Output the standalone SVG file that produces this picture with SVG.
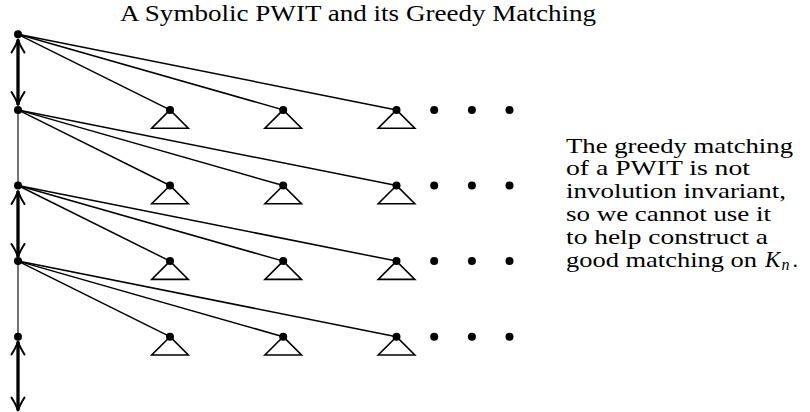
<svg xmlns="http://www.w3.org/2000/svg" width="810" height="412" viewBox="0 0 810 412">
  <defs>
    <style>
      .dot { fill: #000; }
      .tri { fill: none; stroke: #000; stroke-width: 1.6; stroke-linejoin: miter; }
      .edge { stroke: #000; stroke-width: 1.5; fill: none; }
      .thin { stroke: #000; stroke-width: 1.1; fill: none; }
      .thick { stroke: #000; stroke-width: 3.3; fill: none; marker-start: url(#ah); marker-end: url(#ah); }
      .txt { font-family: "Liberation Serif", "Times New Roman", serif; font-size: 22px; fill: #000; }
      .title { font-family: "Liberation Serif", "Times New Roman", serif; font-size: 23px; fill: #000; }
    </style>
    <marker id="ah" markerUnits="userSpaceOnUse" orient="auto-start-reverse" markerWidth="20" markerHeight="20" viewBox="-15 -10 20 20" refX="0" refY="0" overflow="visible">
      <path d="M-13,-6.5 Q-5,-1.5 0,0 Q-5,1.5 -13,6.5" fill="none" stroke="#000" stroke-width="2" stroke-linecap="round" stroke-linejoin="round"/>
    </marker>
    <path id="sub" class="tri" d="M0,0 L-18.3,18.3 L18.3,18.3 Z"/>
  </defs>

  <text class="title" x="120" y="21" textLength="476" lengthAdjust="spacingAndGlyphs">A Symbolic PWIT and its Greedy Matching</text>

  <g id="connectors">
    <line class="thick" x1="18" y1="39.5" x2="18" y2="105"/>
    <line class="thin" x1="18" y1="110" x2="18" y2="185.5"/>
    <line class="thick" x1="18" y1="191" x2="18" y2="257"/>
    <line class="thin" x1="18" y1="261.1" x2="18" y2="336.7"/>
    <line class="thick" x1="18" y1="341.5" x2="18" y2="410.5"/>

    <line class="edge" x1="18" y1="34.3" x2="170" y2="109.9"/>
    <line class="edge" x1="18" y1="34.3" x2="283.2" y2="109.9"/>
    <line class="edge" x1="18" y1="34.3" x2="396.5" y2="109.9"/>

    <line class="edge" x1="18" y1="109.9" x2="170" y2="185.5"/>
    <line class="edge" x1="18" y1="109.9" x2="283.2" y2="185.5"/>
    <line class="edge" x1="18" y1="109.9" x2="396.5" y2="185.5"/>

    <line class="edge" x1="18" y1="185.5" x2="170" y2="261.1"/>
    <line class="edge" x1="18" y1="185.5" x2="283.2" y2="261.1"/>
    <line class="edge" x1="18" y1="185.5" x2="396.5" y2="261.1"/>

    <line class="edge" x1="18" y1="261.1" x2="170" y2="336.7"/>
    <line class="edge" x1="18" y1="261.1" x2="283.2" y2="336.7"/>
    <line class="edge" x1="18" y1="261.1" x2="396.5" y2="336.7"/>
  </g>

  <g id="v0"><circle class="dot" cx="18" cy="34.3" r="4"/></g>
  <g id="v1"><circle class="dot" cx="18" cy="109.9" r="4"/></g>
  <g id="v2"><circle class="dot" cx="18" cy="185.5" r="4"/></g>
  <g id="v3"><circle class="dot" cx="18" cy="261.1" r="4"/></g>
  <g id="v4"><circle class="dot" cx="18" cy="336.7" r="4"/></g>

  <g id="c1a"><use href="#sub" x="170" y="109.9"/><circle class="dot" cx="170" cy="109.9" r="4"/></g>
  <g id="c1b"><use href="#sub" x="283.2" y="109.9"/><circle class="dot" cx="283.2" cy="109.9" r="4"/></g>
  <g id="c1c"><use href="#sub" x="396.5" y="109.9"/><circle class="dot" cx="396.5" cy="109.9" r="4"/></g>
  <g id="e1"><circle class="dot" cx="434.2" cy="109.9" r="4"/><circle class="dot" cx="471.9" cy="109.9" r="4"/><circle class="dot" cx="509.5" cy="109.9" r="4"/></g>

  <g id="c2a"><use href="#sub" x="170" y="185.5"/><circle class="dot" cx="170" cy="185.5" r="4"/></g>
  <g id="c2b"><use href="#sub" x="283.2" y="185.5"/><circle class="dot" cx="283.2" cy="185.5" r="4"/></g>
  <g id="c2c"><use href="#sub" x="396.5" y="185.5"/><circle class="dot" cx="396.5" cy="185.5" r="4"/></g>
  <g id="e2"><circle class="dot" cx="434.2" cy="185.5" r="4"/><circle class="dot" cx="471.9" cy="185.5" r="4"/><circle class="dot" cx="509.5" cy="185.5" r="4"/></g>

  <g id="c3a"><use href="#sub" x="170" y="261.1"/><circle class="dot" cx="170" cy="261.1" r="4"/></g>
  <g id="c3b"><use href="#sub" x="283.2" y="261.1"/><circle class="dot" cx="283.2" cy="261.1" r="4"/></g>
  <g id="c3c"><use href="#sub" x="396.5" y="261.1"/><circle class="dot" cx="396.5" cy="261.1" r="4"/></g>
  <g id="e3"><circle class="dot" cx="434.2" cy="261.1" r="4"/><circle class="dot" cx="471.9" cy="261.1" r="4"/><circle class="dot" cx="509.5" cy="261.1" r="4"/></g>

  <g id="c4a"><use href="#sub" x="170" y="336.7"/><circle class="dot" cx="170" cy="336.7" r="4"/></g>
  <g id="c4b"><use href="#sub" x="283.2" y="336.7"/><circle class="dot" cx="283.2" cy="336.7" r="4"/></g>
  <g id="c4c"><use href="#sub" x="396.5" y="336.7"/><circle class="dot" cx="396.5" cy="336.7" r="4"/></g>
  <g id="e4"><circle class="dot" cx="434.2" cy="336.7" r="4"/><circle class="dot" cx="471.9" cy="336.7" r="4"/><circle class="dot" cx="509.5" cy="336.7" r="4"/></g>

  <g id="note">
    <text class="txt" x="566" y="152.5" textLength="227" lengthAdjust="spacingAndGlyphs">The greedy matching</text>
    <text class="txt" x="566" y="175.3" textLength="184" lengthAdjust="spacingAndGlyphs">of a PWIT is not</text>
    <text class="txt" x="566" y="198.1" textLength="220" lengthAdjust="spacingAndGlyphs">involution invariant,</text>
    <text class="txt" x="566" y="220.9" textLength="205" lengthAdjust="spacingAndGlyphs">so we cannot use it</text>
    <text class="txt" x="566" y="243.7" textLength="202" lengthAdjust="spacingAndGlyphs">to help construct a</text>
    <text class="txt" x="566" y="266.5"><tspan textLength="191" lengthAdjust="spacingAndGlyphs">good matching on</tspan><tspan x="765" font-style="italic" font-size="23px">K</tspan><tspan x="781.5" dy="3.5" font-style="italic" font-size="16px">n</tspan><tspan x="792.5" dy="-3.5">.</tspan></text>
  </g>
</svg>
